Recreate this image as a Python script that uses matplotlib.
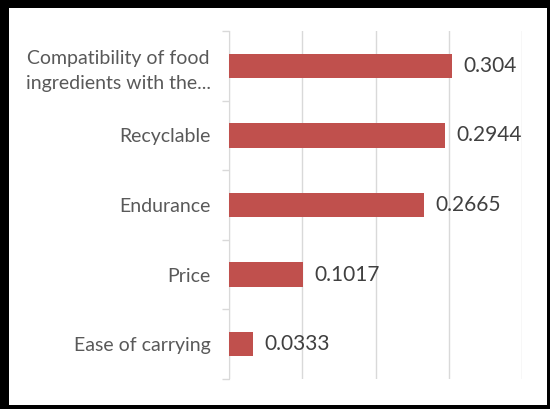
import matplotlib.pyplot as plt
from matplotlib.patches import Rectangle

plt.rcParams['font.family'] = ['Lato', 'DejaVu Sans']

categories = ["Compatibility of food\ningredients with the...", "Recyclable",
              "Endurance", "Price", "Ease of carrying"]
weights = [0.304, 0.2944, 0.2665, 0.1017, 0.0333]
labels = ["0.304", "0.2944", "0.2665", "0.1017", "0.0333"]

fig = plt.figure(figsize=(5.5, 4.09), dpi=100, facecolor="black")
# white panel inside black frame
fig.patches.append(Rectangle((9 / 550, 4 / 409), 538 / 550, 397 / 409,
                             transform=fig.transFigure, facecolor="white",
                             edgecolor="none", zorder=-10))

ax = fig.add_axes([229 / 550, 30 / 409, 293 / 550, 348 / 409])
ax.set_zorder(5)
ax.set_facecolor("none")

pos = list(range(len(categories)))
ax.barh(pos, weights, height=0.35, color="#C0504D", zorder=3)
for p, w, t in zip(pos, weights, labels):
    ax.text(w + 0.0155, p, t, va="center", ha="left", fontsize=15,
            color="#404040")

ax.set_xlim(0, 0.4)
ax.set_ylim(len(categories) - 0.5, -0.5)
ax.set_xticks([0, 0.1, 0.2, 0.3, 0.4])
ax.set_xticklabels([])
ax.tick_params(axis="x", length=0)
ax.grid(axis="x", color="#D9D9D9", linewidth=1, zorder=0)

ax.set_yticks(pos)
ax.set_yticklabels(categories, fontsize=14, color="#595959", ha="right",
                   multialignment="center", linespacing=1.55)
ax.tick_params(axis="y", which="major", length=0, pad=13)
ax.set_yticks([p - 0.5 for p in pos] + [len(categories) - 0.5], minor=True)
ax.tick_params(axis="y", which="minor", length=5, color="#D9D9D9", width=1)

for s in ["top", "right", "bottom"]:
    ax.spines[s].set_visible(False)
ax.spines["left"].set_color("#D9D9D9")

fig.savefig("out.png", dpi=100, facecolor="black")
